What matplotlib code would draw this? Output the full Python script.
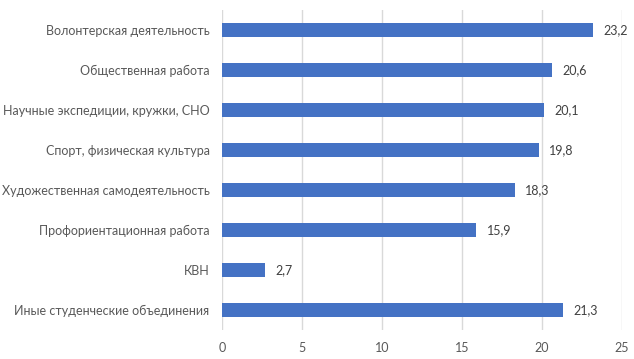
import matplotlib
matplotlib.use("Agg")
import matplotlib.pyplot as plt

categories = [
    "Волонтерская деятельность",
    "Общественная работа",
    "Научные экспедиции, кружки, СНО",
    "Спорт, физическая культура",
    "Художественная самодеятельность",
    "Профориентационная работа",
    "КВН",
    "Иные студенческие объединения",
]
values = [23.2, 20.6, 20.1, 19.8, 18.3, 15.9, 2.7, 21.3]
xticks = [0, 5, 10, 15, 20, 25]

plt.rcParams['font.family'] = ['Lato', 'DejaVu Sans']
fig = plt.figure(figsize=(6.34, 3.59), dpi=100)
ax = fig.add_axes([222/634, 1-330/359, 400/634, 320/359])

y = list(range(len(categories)))
ax.barh(y, values, height=0.35, color="#4472C4", zorder=3)
ax.set_ylim(len(categories)-0.5, -0.5)
ax.set_xlim(0, 25)
ax.set_xticks(xticks)
ax.set_xticklabels([str(t) for t in xticks])
ax.set_yticks(y)
ax.set_yticklabels(categories)
ax.tick_params(length=0, labelsize=9, colors="#595959")
ax.tick_params(axis='x', pad=9)
ax.tick_params(axis='y', pad=9)
ax.grid(axis='x', color="#D9D9D9", linewidth=1, zorder=0)
for s in ax.spines.values():
    s.set_visible(False)
for yi, v in zip(y, values):
    ax.annotate(f"{v:.1f}".replace(".", ","), (v, yi), xytext=(7.5, 0),
                textcoords="offset points", va="center", ha="left",
                fontsize=9, color="#404040")
fig.savefig("out.png", dpi=100)
